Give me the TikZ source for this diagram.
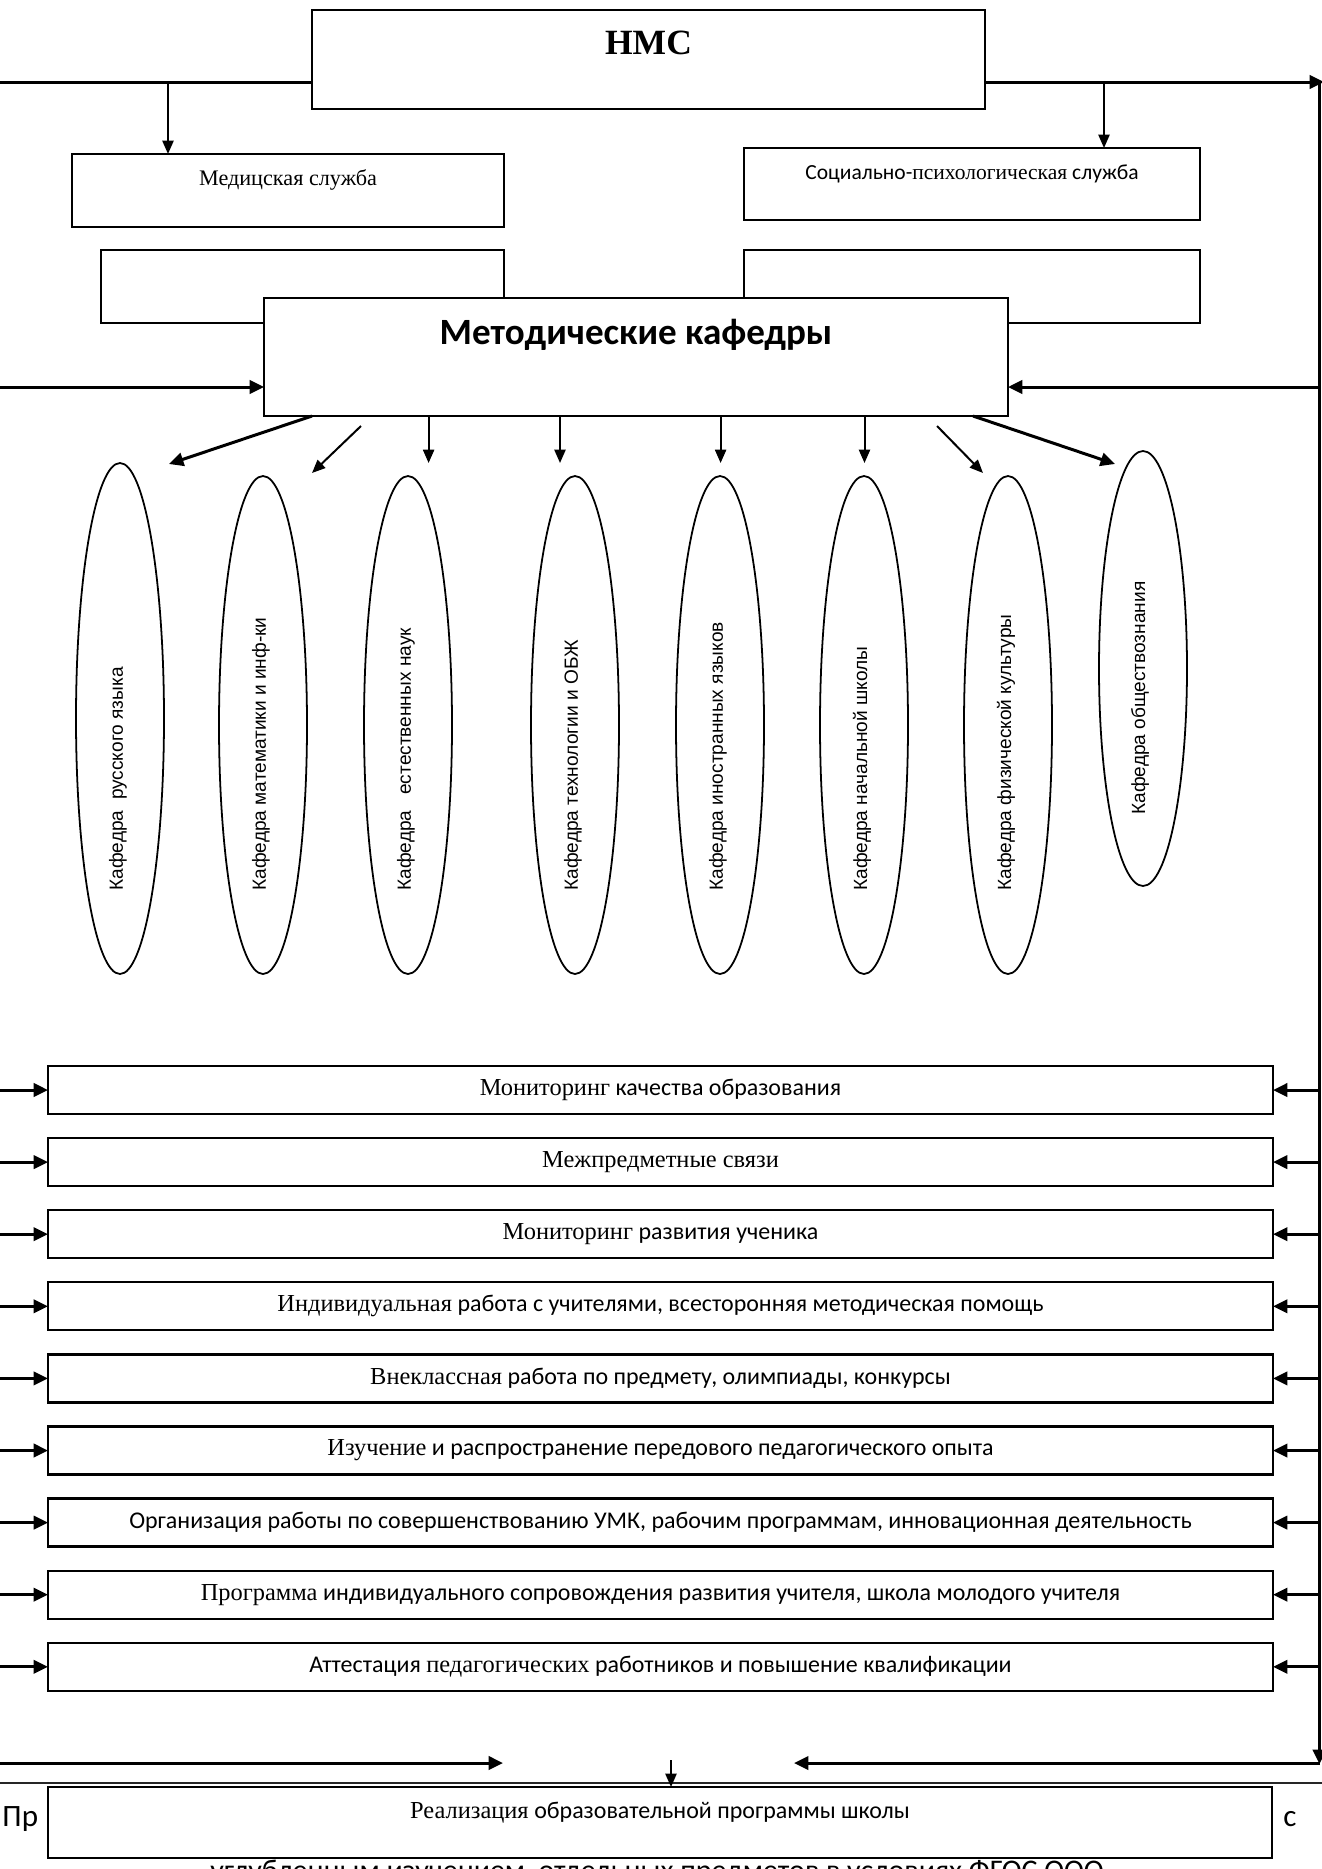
\documentclass[tikz,border=0pt]{standalone}
\usepackage{fontspec}
\setmainfont{Liberation Serif}
\newfontfamily\calibf{Carlito}
\newfontfamily\arialf{Liberation Sans}
\usetikzlibrary{arrows.meta,shapes.geometric,calc}
\newcommand\pxu{0.4506pt}
\newcommand\tms[1]{{\rmfamily\fontsize{11pt}{13pt}\selectfont #1}}
\newcommand\clb[1]{{\calibf\fontsize{10.8pt}{13pt}\selectfont #1}}
\begin{document}
\begin{tikzpicture}[x=0.4506pt,y=-0.4506pt,
  box/.style={draw, rectangle, line width=1.05pt, fill=white, inner sep=0pt, outer sep=0pt},
  rowbox/.style={box, minimum width=1225*\pxu, minimum height=48*\pxu},
  ell/.style={draw, ellipse, line width=0.8pt, inner sep=0pt, outer sep=0pt, minimum width=88*\pxu},
  etext/.style={rotate=90, anchor=west, inner sep=0pt, font=\arialf\fontsize{8.6pt}{10pt}\selectfont},
  main/.style={line width=1.35pt},
  thinline/.style={line width=0.9pt},
  arr/.style={-{Triangle[length=6.5pt,width=6pt]}},
  sarr/.style={-{Triangle[length=6pt,width=5pt]}}
]
\useasboundingbox (0,0) rectangle (1321,1869);

% partially hidden text at the bottom
\node[font=\calibf\fontsize{14pt}{16pt}\selectfont, anchor=base west, inner sep=0pt] (hp) at (2,1826) {Пр};
\node[font=\calibf\fontsize{14pt}{16pt}\selectfont, anchor=base west, inner sep=0pt] (hc) at (1283,1826) {с};
\node[font=\calibf\fontsize{13.5pt}{16pt}\selectfont, anchor=base, inner sep=0pt] (hl) at (657,1880) {углубленным изучением\ \ отдельных предметов в условиях ФГОС ООО};

% top boxes
\node[box, minimum width=673*\pxu, minimum height=99*\pxu] (nms) at (648.5,59.5) {};
\node[font=\bfseries\fontsize{16pt}{18pt}\selectfont, inner sep=0pt] (nmst) at (648.5,43) {НМС};

\node[box, minimum width=432*\pxu, minimum height=73*\pxu] (med) at (288,190.5) {};
\node[font=\fontsize{10pt}{12pt}\selectfont, inner sep=0pt] (medt) at (288,180) {Медицская служба};

\node[box, minimum width=456*\pxu, minimum height=72*\pxu] (soc) at (972,184) {};
\node[inner sep=0pt] (soct) at (972,174) {{\calibf\fontsize{9.7pt}{12pt}\selectfont Социально-}{\fontsize{9.7pt}{12pt}\selectfont психологическая}{\calibf\fontsize{9.7pt}{12pt}\selectfont{} служба}};

\node[box, minimum width=403*\pxu, minimum height=73*\pxu] (eb1) at (302.5,286.5) {};
\node[box, minimum width=456*\pxu, minimum height=73*\pxu] (eb2) at (972,286.5) {};

\node[box, minimum width=744*\pxu, minimum height=118*\pxu] (mk) at (636,357) {};
\node[font=\calibf\bfseries\fontsize{16.7pt}{19pt}\selectfont, inner sep=0pt] (mkt) at (636,335) {Методические кафедры};

% main lines at top
\coordinate (L0) at (-5,82);
\coordinate (R0) at (1319.5,82);
\coordinate (Rtip) at (1324,82);
\coordinate (Rb) at (1319.5,1764);
\draw[main] (L0) -- (L0 -| nms.west);
\draw[main,arr] (nms.east |- R0) -- (Rtip);
\draw[main,arr] (R0) -- (Rb);

\coordinate (jm) at (168,82);
\coordinate (js) at (1104,82);
\draw[thinline,sarr] (jm) -- (jm |- med.north);
\draw[thinline,sarr] (js) -- (js |- soc.north);

\coordinate (Lm) at (-5,387);
\coordinate (Rm) at (1319.5,387);
\draw[main,arr] (Lm) -- (Lm -| mk.west);
\draw[main,arr] (Rm) -- (Rm -| mk.east);

% ellipses
\node[ell, minimum height=511*\pxu] (e1) at (120,718.5) {};
\node[ell, minimum height=498*\pxu] (e2) at (263,725) {};
\node[ell, minimum height=498*\pxu] (e3) at (408,725) {};
\node[ell, minimum height=498*\pxu] (e4) at (575,725) {};
\node[ell, minimum height=498*\pxu] (e5) at (720,725) {};
\node[ell, minimum height=498*\pxu] (e6) at (864,725) {};
\node[ell, minimum height=498*\pxu] (e7) at (1008,725) {};
\node[ell, minimum height=435*\pxu] (e8) at (1143,668.5) {};

\node[etext] (t1) at (118,891) {Кафедра\ \ русского языка};
\node[etext] (t2) at (261,891) {Кафедра математики и инф-ки};
\node[etext] (t3) at (406,891) {Кафедра\ \ \ естественных наук};
\node[etext] (t4) at (573,891) {Кафедра технологии и ОБЖ};
\node[etext] (t5) at (718,891) {Кафедра иностранных языков};
\node[etext] (t6) at (862,891) {Кафедра начальной школы};
\node[etext] (t7) at (1006,891) {Кафедра физической культуры};
\node[etext] (t8) at (1140,815) {Кафедра обществознания};

% arrows from Методические кафедры
\coordinate (s1) at (312,416);  \coordinate (k1) at (169,464);
\coordinate (s2) at (361,426);  \coordinate (k2) at (312,473);
\coordinate (s3) at (428.6,416); \coordinate (k3) at (428.6,463);
\coordinate (s4) at (560,416);  \coordinate (k4) at (560,463);
\coordinate (s5) at (720.6,416); \coordinate (k5) at (720.6,463);
\coordinate (s6) at (864.5,416); \coordinate (k6) at (864.5,463);
\coordinate (s7) at (937,426);  \coordinate (k7) at (983,473);
\coordinate (s8) at (973,416);  \coordinate (k8) at (1115,464);
\draw[main,arr] (s1) -- (k1);
\draw[thinline,sarr] (s2) -- (k2);
\draw[thinline,sarr] (s3) -- (k3);
\draw[thinline,sarr] (s4) -- (k4);
\draw[thinline,sarr] (s5) -- (k5);
\draw[thinline,sarr] (s6) -- (k6);
\draw[thinline,sarr] (s7) -- (k7);
\draw[main,arr] (s8) -- (k8);

% row boxes
\node[rowbox] (r1) at (660.5,1090) {\tms{Мониторинг} \clb{качества образования}};
\node[rowbox] (r2) at (660.5,1162.1) {\tms{Межпредметные связи}};
\node[rowbox] (r3) at (660.5,1234.2) {\tms{Мониторинг} \clb{развития ученика}};
\node[rowbox] (r4) at (660.5,1306.3) {\tms{Индивидуальная} \clb{работа с учителями, всесторонняя методическая помощь}};
\node[rowbox] (r5) at (660.5,1378.4) {\tms{Внеклассная} \clb{работа по предмету, олимпиады, конкурсы}};
\node[rowbox] (r6) at (660.5,1450.5) {\tms{Изучение} \clb{и распространение передового педагогического опыта}};
\node[rowbox] (r7) at (660.5,1522.6) {\clb{Организация работы по совершенствованию УМК, рабочим программам, инновационная деятельность}};
\node[rowbox] (r8) at (660.5,1594.7) {\tms{Программа} \clb{индивидуального сопровождения развития учителя, школа молодого учителя}};
\node[rowbox] (r9) at (660.5,1666.8) {\clb{Аттестация} \tms{педагогических} \clb{работников и повышение квалификации}};

\foreach \i in {1,...,9} {
  \coordinate (ll\i) at (-5,0 |- r\i.west);
  \coordinate (rr\i) at (1319.5,0 |- r\i.east);
  \draw[main,arr] (ll\i) -- (r\i.west);
  \draw[main,arr] (rr\i) -- (r\i.east);
}

% bottom arrows
\coordinate (Lb) at (-5,1763);
\coordinate (lbt) at (503,1763);
\coordinate (Rbs) at (1319.5,1763);
\coordinate (rbt) at (794,1763);
\draw[main,arr] (Lb) -- (lbt);
\draw[main,arr] (Rbs) -- (rbt);

\coordinate (bl1) at (-5,1783);
\coordinate (bl2) at (1326,1783);
\draw[line width=1pt, black!85] (bl1) -- (bl2);

\node[box, minimum width=1224*\pxu, minimum height=71*\pxu] (real) at (660,1822.5) {};
\node[inner sep=0pt] (realt) at (660,1813) {\tms{Реализация} \clb{образовательной программы школы}};

\coordinate (sa) at (671,1760);
\draw[thinline,sarr] (sa) -- (sa |- real.north);
\end{tikzpicture}
\end{document}
